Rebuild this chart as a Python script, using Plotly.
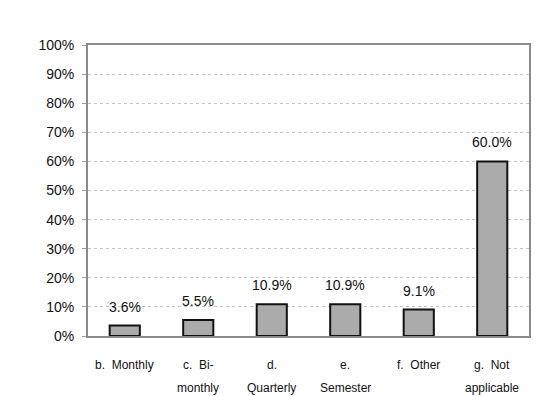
import plotly.graph_objects as go

# Survey responses: how often is the report produced
categories = ["b. Monthly", "c. Bi-monthly", "d. Quarterly", "e. Semester", "f. Other", "g. Not applicable"]
label_line1 = ["b.  Monthly", "c.  Bi-", "d.", "e.", "f.  Other", "g.  Not"]
label_line2 = ["", "monthly", "Quarterly", "Semester", "", "applicable"]
shares = [3.6, 5.5, 10.9, 10.9, 9.1, 60.0]
y_ticks = [0, 10, 20, 30, 40, 50, 60, 70, 80, 90, 100]

FONT = "Liberation Sans, Arial, sans-serif"

fig = go.Figure(
    go.Bar(
        x=categories,
        y=shares,
        width=0.41,
        marker=dict(color="#ababab", line=dict(color="#111111", width=2)),
        hoverinfo="skip",
    )
)

# value labels above bars
for c, v in zip(categories, shares):
    fig.add_annotation(
        x=c, y=v, xref="x", yref="y", text=f"{v:.1f}%", showarrow=False,
        yanchor="bottom", yshift=9, font=dict(family=FONT, size=14, color="#111111"),
    )

# two-line category labels with wide line spacing
for c, l1, l2 in zip(categories, label_line1, label_line2):
    fig.add_annotation(
        x=c, y=-0.10, xref="x", yref="paper", text=l1, showarrow=False,
        yanchor="middle", font=dict(family=FONT, size=12, color="#111111"),
    )
    if l2:
        fig.add_annotation(
            x=c, y=-0.18, xref="x", yref="paper", text=l2, showarrow=False,
            yanchor="middle", font=dict(family=FONT, size=12, color="#111111"),
        )

fig.update_layout(
    width=539,
    height=396,
    margin=dict(l=88, r=8, t=45, b=60),
    paper_bgcolor="white",
    plot_bgcolor="white",
    showlegend=False,
    bargap=0.59,
    xaxis=dict(
        showticklabels=False, ticks="", showgrid=False,
        showline=True, linecolor="#8a8a8a", linewidth=2, mirror=True,
    ),
    yaxis=dict(
        range=[0, 100], tickvals=y_ticks, ticktext=[f"{t}%" for t in y_ticks],
        tickfont=dict(family=FONT, size=14, color="#111111"),
        ticklabelstandoff=5,
        showgrid=True, gridcolor="#c4c4c4", gridwidth=1, griddash="dot",
        ticks="outside", ticklen=4, tickcolor="#a0a0a0",
        showline=True, linecolor="#8a8a8a", linewidth=2, mirror=True,
        zeroline=False,
    ),
)

fig.write_html("out.html")
